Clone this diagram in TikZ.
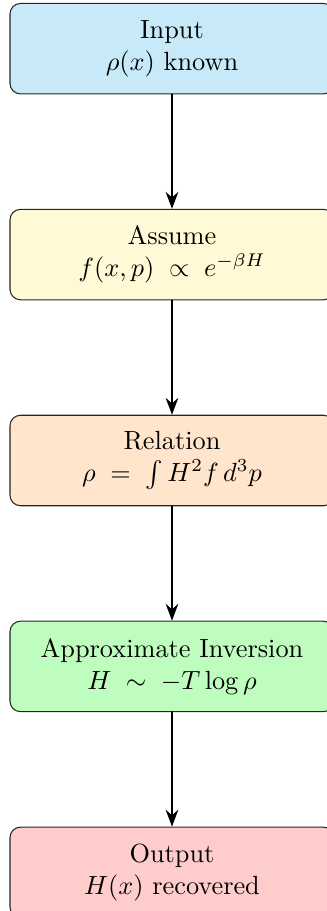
\documentclass[tikz,border=0pt]{standalone}
\usepackage{amsmath}
\usetikzlibrary{positioning,arrows.meta}

\begin{document}
\begin{tikzpicture}[line cap=round, line join=round,
    stage/.style={draw=black!85, rounded corners=4pt, align=center,
      minimum width=123.2pt, minimum height=34.4pt, inner sep=3pt},
    flow/.style={thick, -{Stealth[length=6.4pt,width=4.8pt]}},
    node distance=43.5pt]
  \definecolor{inblue}{RGB}{199,233,248}
  \definecolor{asyellow}{RGB}{255,249,214}
  \definecolor{relorange}{RGB}{255,229,204}
  \definecolor{invgreen}{RGB}{190,253,190}
  \definecolor{outred}{RGB}{255,204,204}

  \useasboundingbox (-65.4pt,18.5pt) rectangle (58.9pt,-327.9pt);

  \node[stage, fill=inblue] (input) at (0,0) {Input\\$\rho(x)$ known};
  \node[stage, fill=asyellow, below=of input] (assume)
    {Assume\\$f(x,p)\;\propto\;e^{-\beta H}$};
  \node[stage, fill=relorange, below=of assume] (relation)
    {Relation\\$\rho\;=\;\int H^2 f\,d^3p$};
  \node[stage, fill=invgreen, below=of relation] (inversion)
    {Approximate Inversion\\$H\;\sim\;-T\log\rho$};
  \node[stage, fill=outred, below=of inversion] (output)
    {Output\\$H(x)$ recovered};

  \draw[flow] (input) -- (assume);
  \draw[flow] (assume) -- (relation);
  \draw[flow] (relation) -- (inversion);
  \draw[flow] (inversion) -- (output);
\end{tikzpicture}
\end{document}
